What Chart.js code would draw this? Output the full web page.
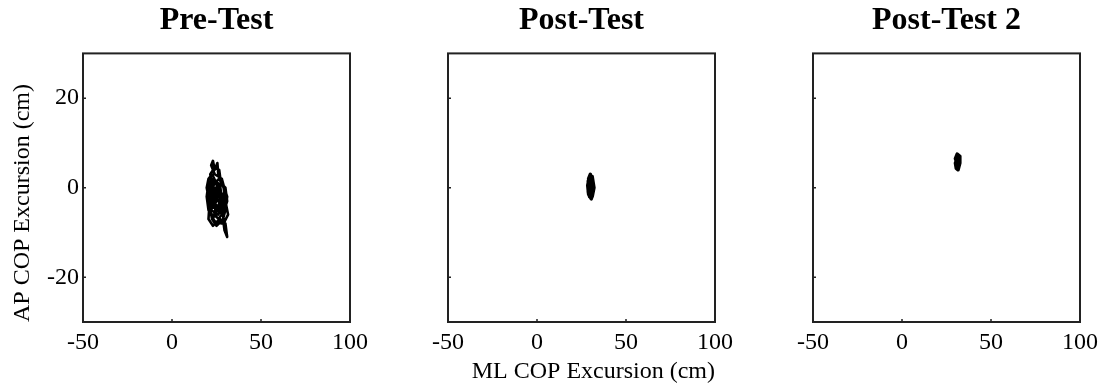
<!DOCTYPE html>
<html>
<head>
<meta charset="utf-8">
<script src="https://cdn.jsdelivr.net/npm/chart.js@4"></script>
<style>
  html, body { margin: 0; padding: 0; background: #fff; overflow: hidden; }
  #wrap { position: relative; width: 1108px; height: 387px; }
  .panel { position: absolute; top: 0; }
</style>
</head>
<body>
<div id="wrap">
  <canvas class="panel" id="c0" width="375" height="387" style="left:0px"></canvas>
  <canvas class="panel" id="c1" width="375" height="387" style="left:365px"></canvas>
  <canvas class="panel" id="c2" width="375" height="387" style="left:730px"></canvas>
</div>
<script>
// panel titles and axis ticks
const panelTitles = ['Pre-Test', 'Post-Test', 'Post-Test 2'];
const xTicks = [-50, 0, 50, 100];
const yTicks = [-20, 0, 20];

// COP traces [ML, AP] in cm
const preTest = [
  [26, -3], [24, -1], [22, 1], [20.5, -2], [22, -5], [26, -6], [29, -4], [30, -1],
  [28, 2], [24, 3], [22, 5], [23, 6], [24, 4], [25.5, 5.5], [26, 3], [28.5, 1],
  [31, -2], [30, -5], [28, -8], [24, -7.5], [20.5, -5], [19.5, -2], [20.5, 1], [23, 2],
  [26, 0], [29, -2], [28, -5], [25, -4], [22, -2], [24, 0], [27, -1], [30, -3],
  [31.5, -6], [29, -8], [29.5, -9.5], [31, -11], [30, -8], [27, -7], [23, -8.5], [20.5, -7],
  [21, -4], [24, -3], [26, -2], [25, 1], [22.5, 3], [20.5, 2], [19.5, 0], [21, -3],
  [25, -5], [28.5, -6], [30.5, -4], [29, 0], [26.5, 2], [24, 1], [21.5, -1], [22.5, -4],
  [26, -4], [28, -2], [25, -1], [22.5, 0], [21.5, 3], [24, 4.5], [26.5, 4], [27.5, 1],
  [30, 0], [31, -3], [29, -5.5], [26, -7], [24, -6], [21.5, -6], [20.5, -3], [23, -1],
  [25, -3], [27.5, -3], [29, -7], [25, -8.5], [22.5, -7], [21.5, -5], [24, -4], [26.5, -1],
  [28, -2.5], [27, 0.5], [23.5, 1.5], [21, 0.5], [21, -5.5], [23.5, -6.5], [27, -5.5], [27, -2],
  [25.5, -2], [23, -3], [26, -5], [28, -4], [26, 1], [23.5, -2], [24.5, -5.5], [27, -3.5]
];
const postTest = [
  [30, 0], [29, 2], [30, 3], [31, 1.5], [31.5, -1], [30.5, -2.5], [29, -1.5], [28.5, 0.5],
  [29.5, 2.5], [31, 2.5], [32, 0], [31, -2], [29.5, -2], [29, 0], [30, 1], [31, 0],
  [30, -1.5], [29.5, -0.5], [30.5, 2], [29.5, 1], [30.5, -0.5], [31, -1.5], [30, -2.2],
  [29.2, -1], [28.8, 1.5], [30, 2.8], [31.2, 1], [30.2, 0.3]
];
const postTest2 = [
  [31, 5.5], [30, 6.5], [31, 7.5], [32.5, 7], [32.5, 5.5], [31.5, 4], [30.5, 4.3], [30, 5.5],
  [31, 6.5], [32, 6], [31.8, 4.8], [30.8, 5], [30.3, 6], [31.3, 7], [32.2, 6.5], [31.5, 5.2],
  [30.5, 5.5], [31, 4.5], [32, 5], [31.6, 6.2]
];
const traces = [preTest, postTest, postTest2];

const serif = "'Liberation Serif', 'DejaVu Serif', serif";

// box round the plot + small inward ticks
const framePlugin = {
  id: 'frame',
  afterDraw(chart) {
    const { ctx, chartArea: a, scales } = chart;
    ctx.save();
    ctx.strokeStyle = '#222';
    ctx.lineWidth = 2;
    ctx.strokeRect(a.left, a.top, a.right - a.left, a.bottom - a.top);
    ctx.lineWidth = 1.5;
    ctx.beginPath();
    xTicks.forEach(v => {
      const px = scales.x.getPixelForValue(v);
      ctx.moveTo(px, a.bottom); ctx.lineTo(px, a.bottom - 3);
    });
    yTicks.forEach(v => {
      const py = scales.y.getPixelForValue(v);
      ctx.moveTo(a.left, py); ctx.lineTo(a.left + 3, py);
    });
    ctx.stroke();
    ctx.restore();
  }
};

traces.forEach((pts, i) => {
  new Chart(document.getElementById('c' + i), {
    type: 'scatter',
    data: {
      datasets: [{
        data: pts.map(([x, y]) => ({ x, y })),
        showLine: true,
        borderColor: '#000',
        borderWidth: i === 0 ? 2.6 : 3.5,
        borderJoinStyle: 'round',
        borderCapStyle: 'round',
        pointRadius: 0,
        tension: 0
      }]
    },
    options: {
      responsive: false,
      devicePixelRatio: 1,
      animation: false,
      layout: { padding: { left: 0, right: 25, top: 0, bottom: 0 } },
      plugins: {
        legend: { display: false },
        tooltip: { enabled: false },
        title: {
          display: true,
          text: panelTitles[i],
          fullSize: false,
          color: '#000',
          font: { family: serif, size: 32, weight: 'bold', lineHeight: 1.2 },
          padding: { top: 2, bottom: 13 }
        }
      },
      scales: {
        x: {
          type: 'linear',
          min: -50, max: 100,
          afterBuildTicks: s => { s.ticks = xTicks.map(v => ({ value: v })); },
          afterFit: s => { s.height = 65; },
          grid: { display: false, drawTicks: false },
          border: { display: false },
          ticks: { color: '#000', padding: 6, maxRotation: 0, font: { family: serif, size: 24 } },
          title: {
            display: i === 1,
            text: 'ML COP Excursion (cm)',
            align: 'end',
            color: '#000',
            font: { family: serif, size: 24 },
            padding: { top: 0, bottom: 1 }
          }
        },
        y: {
          type: 'linear',
          min: -30, max: 30,
          afterBuildTicks: s => { s.ticks = yTicks.map(v => ({ value: v })); },
          afterFit: s => { s.width = 83; },
          grid: { display: false, drawTicks: false },
          border: { display: false },
          ticks: { display: i === 0, color: '#000', padding: 4, font: { family: serif, size: 24 } },
          title: {
            display: i === 0,
            text: 'AP COP Excursion (cm)',
            align: 'start',
            color: '#000',
            font: { family: serif, size: 24 },
            padding: { top: 8, bottom: 0 }
          }
        }
      }
    },
    plugins: [framePlugin]
  });
});
</script>
</body>
</html>
